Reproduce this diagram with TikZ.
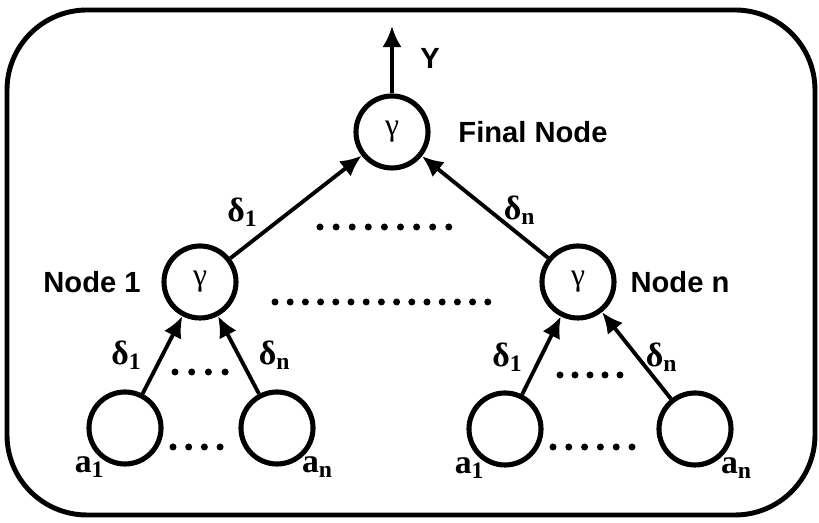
\documentclass[tikz,border=0pt]{standalone}
\usepackage{fontspec}
\setmainfont{Liberation Serif}
\setsansfont{Liberation Sans}
\usetikzlibrary{arrows.meta}

\begin{document}
\begin{tikzpicture}
\tikzstyle{every node}+=[inner sep=0pt]
\tikzstyle{unit}=[draw=black, circle, line width=1.45pt, minimum size=7.2mm, font=\fontsize{9}{10}\selectfont]
\tikzstyle{tag}=[font=\sffamily\bfseries\fontsize{8.3}{10}\selectfont]
\tikzstyle{wt}=[font=\bfseries\fontsize{9.6}{10}\selectfont]
\tikzstyle{link}=[black, line width=1.1pt, -{Latex[length=6pt,width=5.5pt]}]
\useasboundingbox (0,0) rectangle (8.19,5.23);
% frame
\draw [black, line width=1.4pt, rounded corners=0.8cm] (0.07,0.08) rectangle (8.15,5.13);
% gamma units
\node [unit] (final) at (3.92,3.91) {γ};
\node [unit] (node1) at (2.00,2.41) {γ};
\node [unit] (noden) at (5.78,2.41) {γ};
% input units
\node [unit] (in11) at (1.25,0.95) {};
\node [unit] (in1n) at (2.77,0.95) {};
\node [unit] (inn1) at (5.05,0.94) {};
\node [unit] (innn) at (6.95,0.94) {};
\coordinate (out) at (3.92,4.97);
% connections
\draw [link] (final) -- (out);
\draw [link] (node1) -- (final);
\draw [link] (noden) -- (final);
\draw [link] (in11) -- (node1);
\draw [link] (in1n) -- (node1);
\draw [link] (inn1) -- (noden);
\draw [link] (innn) -- (noden);
% labels
\node [tag] (ylab) at (4.30,4.65) {Y};
\node [tag] (finallab) at (5.33,3.91) {Final Node};
\node [tag] (node1lab) at (0.92,2.41) {Node 1};
\node [tag] (nodenlab) at (6.80,2.41) {Node n};
\node [wt] (w1) at (2.43,3.11) {δ\textsubscript{1}};
\node [wt] (wn) at (5.20,3.13) {δ\textsubscript{n}};
\node [wt] (w11) at (1.27,1.68) {δ\textsubscript{1}};
\node [wt] (w1n) at (2.75,1.68) {δ\textsubscript{n}};
\node [wt] (wn1) at (5.08,1.66) {δ\textsubscript{1}};
\node [wt] (wnn) at (6.62,1.66) {δ\textsubscript{n}};
\node [wt] (a11) at (0.90,0.56) {a\textsubscript{1}};
\node [wt] (a1n) at (3.18,0.56) {a\textsubscript{n}};
\node [wt] (an1) at (4.70,0.55) {a\textsubscript{1}};
\node [wt] (ann) at (7.37,0.55) {a\textsubscript{n}};
% dotted rows
\foreach \i in {0,...,8} \fill ({3.20+0.161*\i},2.96) circle (0.035);
\foreach \i in {0,...,14} \fill ({2.75+0.152*\i},2.21) circle (0.035);
\foreach \i in {0,...,3} \fill ({1.75+0.167*\i},1.51) circle (0.035);
\foreach \i in {0,...,3} \fill ({1.73+0.157*\i},0.76) circle (0.035);
\foreach \i in {0,...,4} \fill ({5.60+0.150*\i},1.48) circle (0.035);
\foreach \i in {0,...,5} \fill ({5.53+0.158*\i},0.76) circle (0.035);
\end{tikzpicture}
\end{document}
